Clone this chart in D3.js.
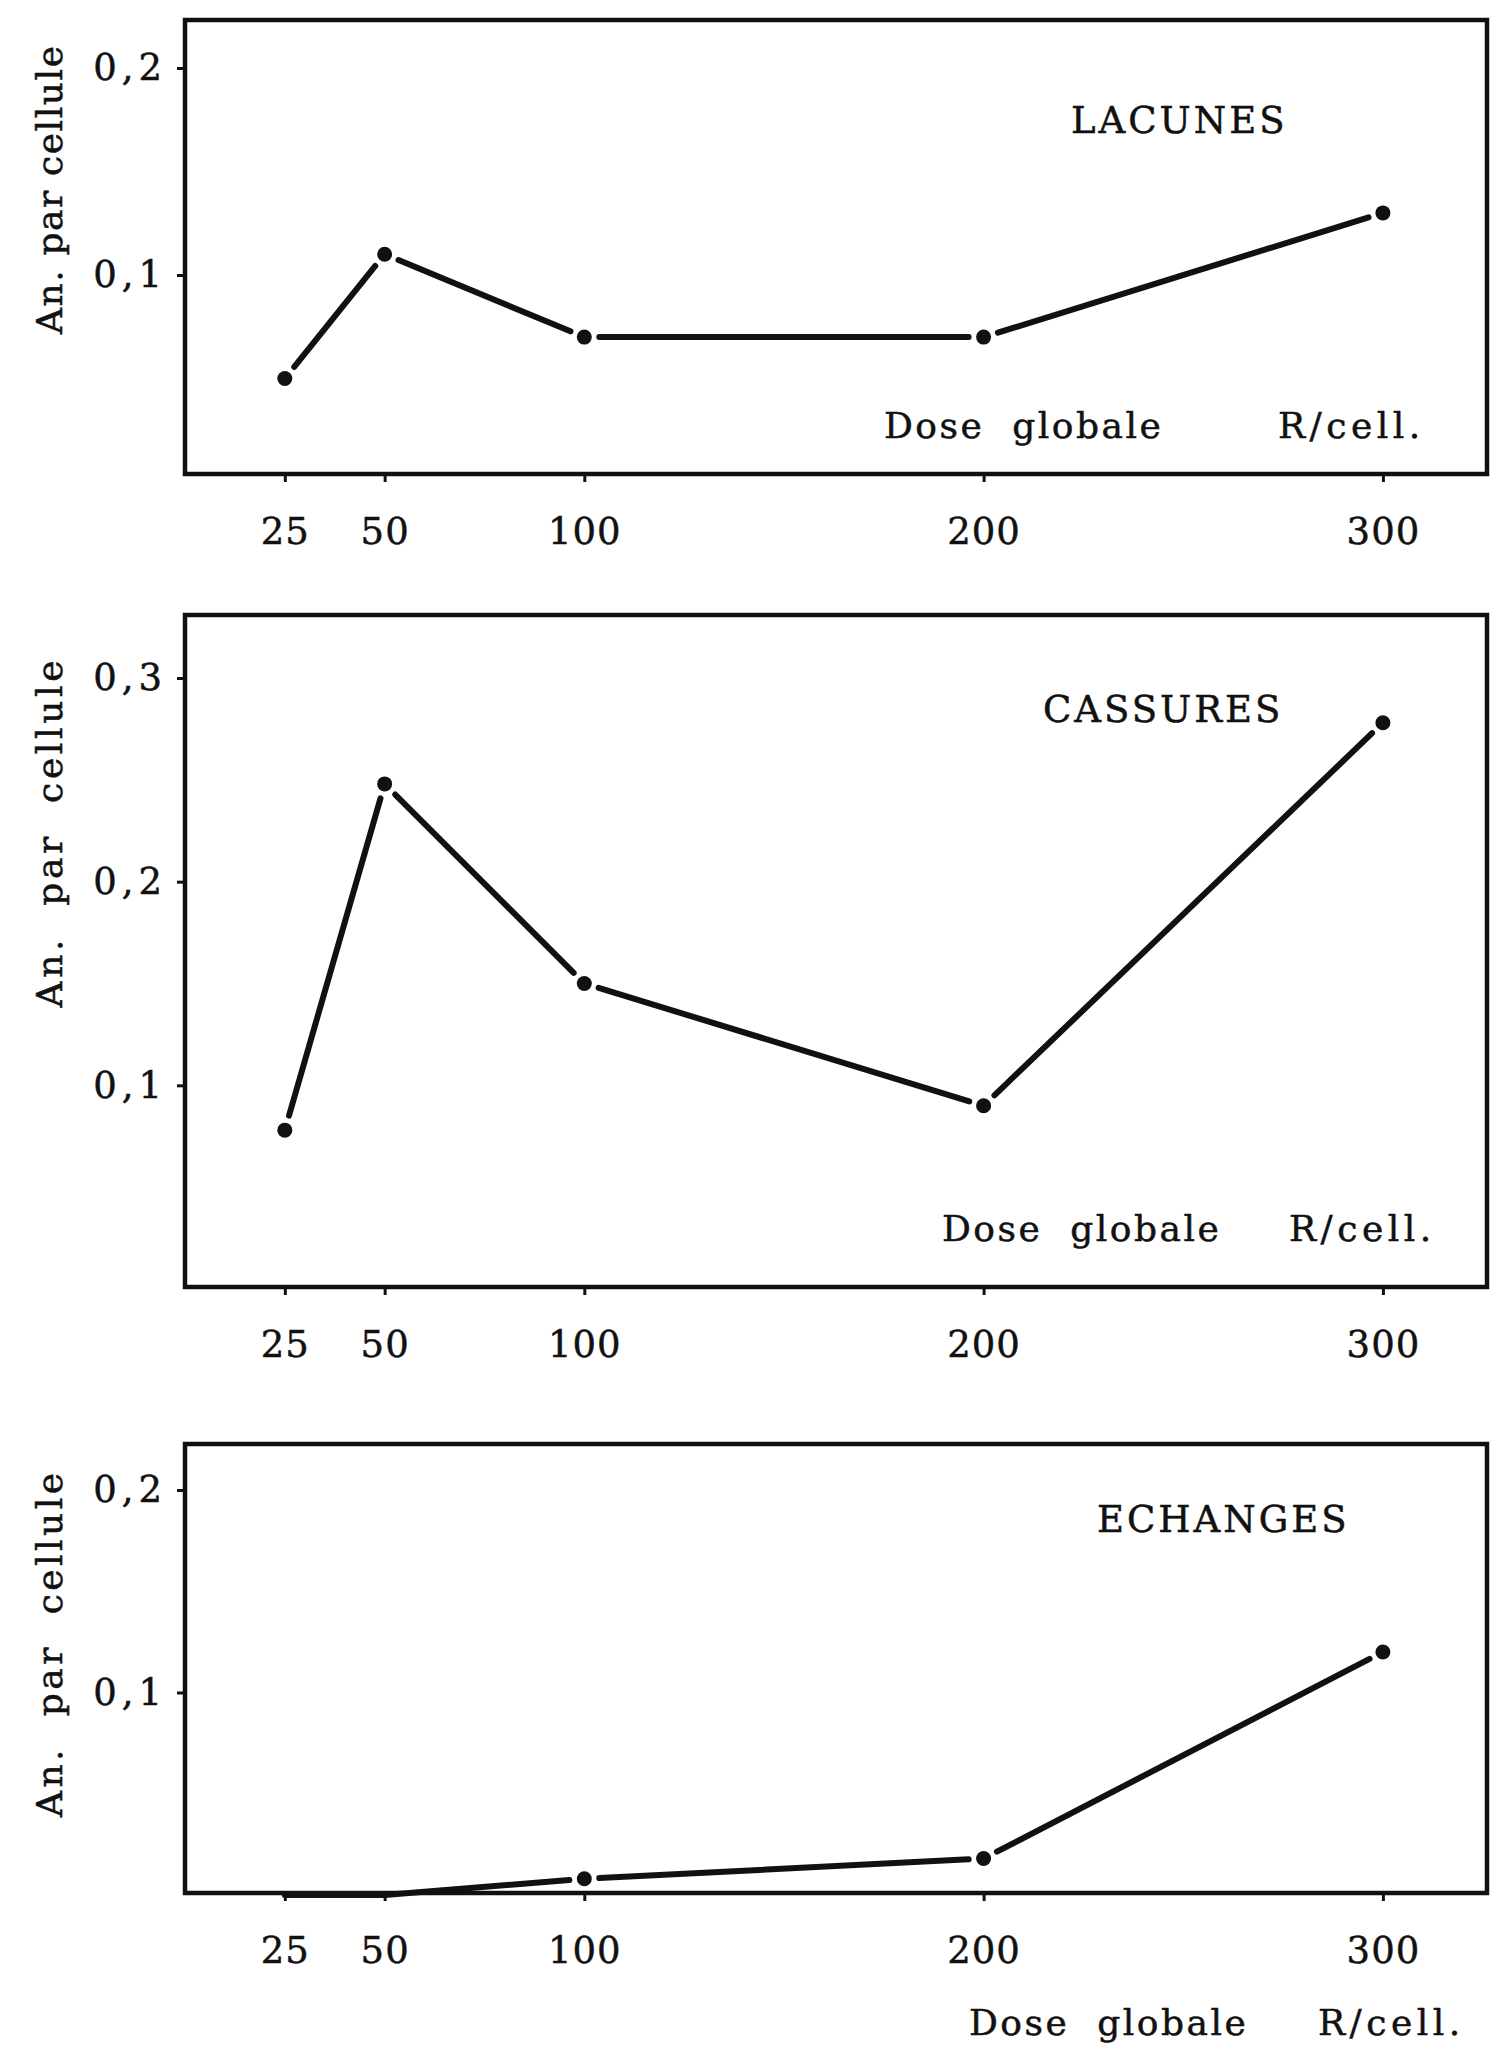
<!DOCTYPE html>
<html>
<head>
<meta charset="utf-8">
<script src="https://cdn.jsdelivr.net/npm/d3@7"></script>
<style>
  html, body { margin: 0; padding: 0; background: #fff; }
  svg { display: block; }
  text { font-family: "DejaVu Serif", "Liberation Serif", serif; fill: #111; stroke: #111; stroke-width: 0.5px; }
</style>
</head>
<body>
<svg id="chart" width="1491" height="2053"></svg>
<script>
// ---- data ----
const doses = [25, 50, 100, 200, 300];
const doseTickLabels = ["25", "50", "100", "200", "300"];
const lacunes  = [0.05, 0.11, 0.07, 0.07, 0.13];
const cassures = [0.078, 0.248, 0.15, 0.09, 0.278];
const echanges = [0, 0, 0.008, 0.018, 0.12];
const panelTitles = ["LACUNES", "CASSURES", "ECHANGES"];
const yTicksLacunes  = [0.1, 0.2];
const yTicksCassures = [0.1, 0.2, 0.3];
const yTicksEchanges = [0.1, 0.2];
const yMaxes = [0.2, 0.3, 0.2];
const yAxisLabels = ["An. par cellule", "An.  par  cellule", "An.  par  cellule"];
const xAxisLabel = "Dose  globale";
const xUnitLabel = "R/cell.";

// ---- layout ----
const svg = d3.select("#chart");
const left = 185, right = 1487;
const x = d3.scaleLinear().domain([0, 300]).range([left, left + 300 * 3.993]);

const panels = [
  { values: lacunes,  ticks: yTicksLacunes,  top: 20,   bottom: 474,  y0: 482,  yTop: 68,   title: panelTitles[0], titleX: 1071, titleY: 133,  doseX: 884, unitX: 1278, doseY: 438,  labelCY: 190,  labelLen: 288 },
  { values: cassures, ticks: yTicksCassures, top: 615,  bottom: 1287, y0: 1289, yTop: 678,  title: panelTitles[1], titleX: 1043, titleY: 722,  doseX: 942, unitX: 1289, doseY: 1241, labelCY: 834,  labelLen: 347 },
  { values: echanges, ticks: yTicksEchanges, top: 1444, bottom: 1893, y0: 1895, yTop: 1490, title: panelTitles[2], titleX: 1097, titleY: 1532, doseX: 969, unitX: 1318, doseY: 2035, labelCY: 1645, labelLen: 344 }
];

const fmt = v => d3.format(".1f")(v).replace(".", ",");

panels.forEach((p, i) => {
  const y = d3.scaleLinear().domain([0, yMaxes[i]]).range([p.y0, p.yTop]);
  const g = svg.append("g");

  // frame
  g.append("rect")
    .attr("x", left).attr("y", p.top)
    .attr("width", right - left).attr("height", p.bottom - p.top)
    .attr("fill", "none").attr("stroke", "#111").attr("stroke-width", 4.5);

  // x axis ticks + labels
  const xAxis = d3.axisBottom(x).tickValues(doses)
    .tickFormat((d, k) => doseTickLabels[k]).tickSize(6).tickPadding(36);
  const gx = g.append("g").attr("transform", `translate(0,${p.bottom + 2})`).call(xAxis);
  gx.select(".domain").remove();
  gx.selectAll(".tick line").attr("stroke", "#111").attr("stroke-width", 3);
  gx.selectAll(".tick text").attr("font-size", 37).attr("letter-spacing", 1)
    .style("font-family", "'DejaVu Serif', serif").attr("fill", "#111");

  // y axis ticks + labels
  const yAxis = d3.axisLeft(y).tickValues(p.ticks).tickFormat(fmt).tickSize(6).tickPadding(10);
  const gy = g.append("g").attr("transform", `translate(${left - 2},0)`).call(yAxis);
  gy.select(".domain").remove();
  gy.selectAll(".tick line").attr("stroke", "#111").attr("stroke-width", 3);
  gy.selectAll(".tick text").attr("font-size", 37).attr("letter-spacing", 5)
    .style("font-family", "'DejaVu Serif', serif").attr("fill", "#111");

  // y axis label
  g.append("text")
    .attr("transform", `translate(62,${p.labelCY}) rotate(-90)`)
    .attr("text-anchor", "middle")
    .attr("font-size", 36)
    .attr("textLength", p.labelLen).attr("lengthAdjust", "spacing")
    .style("white-space", "pre")
    .attr("xml:space", "preserve")
    .text(yAxisLabels[i]);

  // title
  g.append("text").attr("x", p.titleX).attr("y", p.titleY)
    .attr("font-size", 37).attr("letter-spacing", 3).text(p.title);

  // dose labels
  g.append("text").attr("x", p.doseX).attr("y", p.doseY)
    .attr("font-size", 36).attr("letter-spacing", 2.5)
    .attr("xml:space", "preserve").style("white-space", "pre").text(xAxisLabel);
  g.append("text").attr("x", p.unitX).attr("y", p.doseY)
    .attr("font-size", 36).attr("letter-spacing", 4.5).text(xUnitLabel);

  // data line: drawn segment by segment with small gaps near the dots
  const pts = doses.map((d, k) => [x(d), y(p.values[k]), p.values[k]]);
  const gap = 15;
  for (let k = 0; k < pts.length - 1; k++) {
    const [x1, y1] = pts[k], [x2, y2] = pts[k + 1];
    const len = Math.hypot(x2 - x1, y2 - y1);
    const ux = (x2 - x1) / len, uy = (y2 - y1) / len;
    const g1 = pts[k][2] > 0 ? gap : 0, g2 = pts[k + 1][2] > 0 ? gap : 0;
    g.append("line")
      .attr("x1", x1 + ux * g1).attr("y1", y1 + uy * g1)
      .attr("x2", x2 - ux * g2).attr("y2", y2 - uy * g2)
      .attr("stroke", "#111").attr("stroke-width", 6).attr("stroke-linecap", "round");
  }
  g.selectAll("circle.pt").data(pts.filter(d => d[2] > 0)).enter()
    .append("circle").attr("class", "pt")
    .attr("cx", d => d[0]).attr("cy", d => d[1]).attr("r", 7.5).attr("fill", "#111");
});
</script>
</body>
</html>
